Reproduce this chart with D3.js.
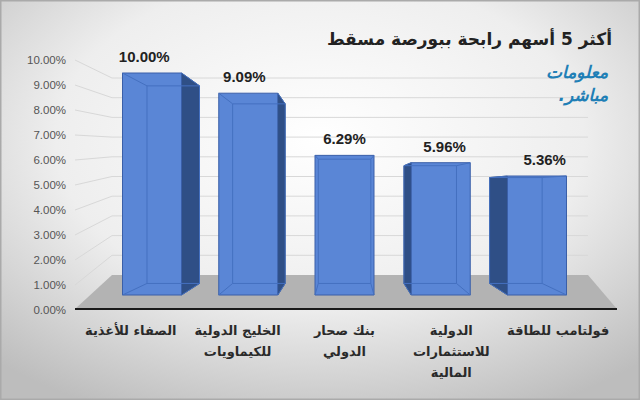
<!DOCTYPE html>
<html><head><meta charset="utf-8">
<script src="https://cdn.jsdelivr.net/npm/d3@7"></script>
<style>body{margin:0}svg{display:block}</style>
</head><body>
<svg width="640" height="400"></svg>
<script>
const categories = [
  ['الصفاء للأغذية'],
  ['الخليج الدولية', 'للكيماويات'],
  ['بنك صحار', 'الدولي'],
  ['الدولية', 'للاستثمارات', 'المالية'],
  ['فولتامب للطاقة']
];
const values = [10.00, 9.09, 6.29, 5.96, 5.36];
const ticks = [0,1,2,3,4,5,6,7,8,9,10];

const svg = d3.select('svg');
const defs = svg.append('defs');
const g = defs.append('radialGradient').attr('id', 'bg').attr('cx', '50%').attr('cy', '35%').attr('r', '75%');
g.append('stop').attr('offset', '0%').attr('stop-color', '#ffffff');
g.append('stop').attr('offset', '55%').attr('stop-color', '#eeeeee');
g.append('stop').attr('offset', '100%').attr('stop-color', '#bdbdbd');
svg.append('rect').attr('width', 640).attr('height', 400).attr('fill', 'url(#bg)')
  .attr('stroke', '#aaa').attr('stroke-width', 3);

// scales
const yLab = d3.scaleLinear().domain([0, 10]).range([310, 60]);   // axis labels
const yWall = d3.scaleLinear().domain([0, 10]).range([275, 78]);  // back wall
const yBar = d3.scaleLinear().domain([0, 10]).range([295, 73]);   // bar front faces
const x = d3.scalePoint().domain(d3.range(values.length)).range([152, 537]);
const bw = 59;
const vp = [345, 190], s = 0.89;
const back = p => [vp[0] + (p[0] - vp[0]) * s, vp[1] + (p[1] - vp[1]) * s];

// floor
svg.append('path').attr('d', 'M75,309L617,309L588,275L112,275Z').attr('fill', '#b3b3b3');

// gridlines
ticks.forEach(t => {
  svg.append('path')
    .attr('d', `M75,${yLab(t)}L112,${yWall(t)}L588,${yWall(t)}`)
    .attr('fill', 'none').attr('stroke', t === 0 ? 'none' : '#d8d8d8').attr('stroke-width', 1);
});
svg.append('line').attr('x1', 75).attr('x2', 617).attr('y1', 309).attr('y2', 309)
  .attr('stroke', '#1a1a1a').attr('stroke-width', 2);

// tick labels
svg.selectAll('text.tick').data(ticks).enter().append('text')
  .attr('x', 66).attr('y', d => yLab(d) + 4).attr('text-anchor', 'end')
  .attr('font-family', 'Liberation Sans, Arial').attr('font-size', 11.5).attr('fill', '#555')
  .text(d => d.toFixed(2) + '%');

// bars
values.forEach((v, i) => {
  const cx = x(i);
  const x0 = cx - bw / 2, x1 = cx + bw / 2, yt = yBar(v), yb = yBar(0);
  const f = [[x0, yt], [x1, yt], [x1, yb], [x0, yb]];
  const b = f.map(back);
  let side;
  if (cx < vp[0] - 5) side = [f[1], b[1], b[2], f[2]];
  else if (cx > vp[0] + 5) side = [f[0], b[0], b[3], f[3]];
  if (side) svg.append('path').attr('d', 'M' + side.join('L') + 'Z')
    .attr('fill', '#2f4f86').attr('stroke', '#25406e').attr('stroke-width', 0.8);
  svg.append('path').attr('d', 'M' + f.join('L') + 'Z')
    .attr('fill', '#5a86d6').attr('stroke', '#3a5fa8').attr('stroke-width', 1);
  svg.append('path').attr('d', 'M' + b.join('L') + 'Z')
    .attr('fill', 'none').attr('stroke', '#4470c0').attr('stroke-width', 1);
  [0, 1, 2, 3].forEach(k => svg.append('line')
    .attr('x1', f[k][0]).attr('y1', f[k][1]).attr('x2', b[k][0]).attr('y2', b[k][1])
    .attr('stroke', '#4470c0').attr('stroke-width', 1));
  svg.append('text').attr('x', cx + (cx - vp[0]) * 0.04).attr('y', yt - 11)
    .attr('text-anchor', 'middle').attr('font-family', 'Liberation Sans, Arial')
    .attr('font-weight', 'bold').attr('font-size', 15).attr('fill', '#222')
    .text(v.toFixed(2) + '%');
  categories[i].forEach((ln, j) => svg.append('text').attr('x', cx + (cx - vp[0]) * 0.11).attr('y', 335 + j * 21)
    .attr('text-anchor', 'middle').attr('direction', 'rtl')
    .attr('font-family', 'DejaVu Sans, Noto Sans').attr('font-weight', 'bold').attr('font-size', 13)
    .attr('fill', '#2a2a2a').text(ln));
});

// title
svg.append('text').attr('x', 612).attr('y', 45).attr('text-anchor', 'start').attr('direction', 'rtl')
  .attr('font-family', 'DejaVu Sans, Noto Sans').attr('font-weight', 'bold').attr('font-size', 17)
  .attr('fill', '#222').text('أكثر 5 أسهم رابحة ببورصة مسقط');

// logo
[['معلومات', 78], ['مباشر.', 101]].forEach(([t, y]) => svg.append('text')
  .attr('x', 608).attr('y', y).attr('text-anchor', 'start').attr('direction', 'rtl')
  .attr('font-family', 'DejaVu Sans').attr('font-weight', 'bold').attr('font-style', 'italic').attr('font-size', 17)
  .attr('fill', '#1f7fb6').text(t));
</script>
</body></html>
